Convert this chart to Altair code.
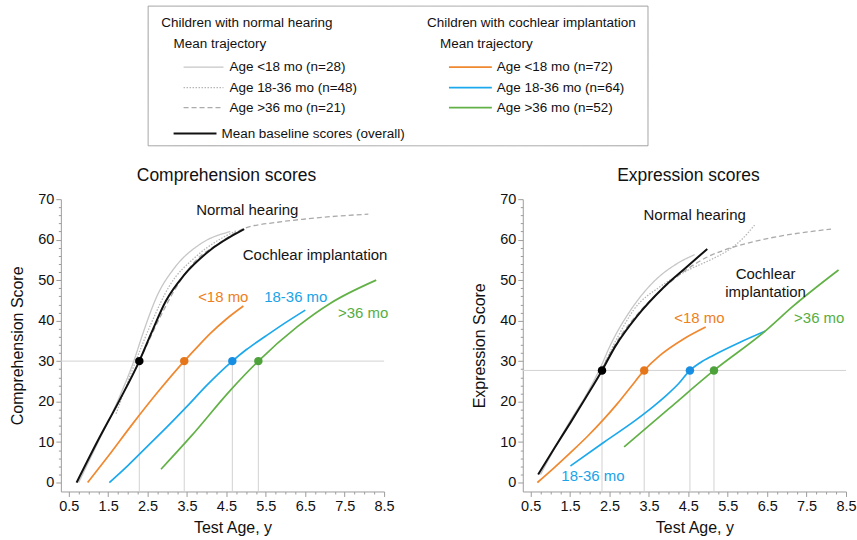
import altair as alt
import pandas as pd

FONT = "Liberation Sans"

# ---------------- Comprehension scores (test age in years, score) ----------------
comp_nh_lt18_x = [0.75, 1.27, 1.78, 2.15, 2.37, 2.75, 3.18, 3.85, 4.6]
comp_nh_lt18_y = [0, 10.5, 21, 30, 36.5, 46.3, 53.0, 59.0, 62.0]
comp_nh_18_36_x = [1.7, 2.2, 2.6, 3.05, 3.7, 4.3, 4.75]
comp_nh_18_36_y = [17, 30, 39.5, 48.5, 55.6, 59.9, 62.2]
comp_nh_gt36_x = [2.3, 2.7, 3.2, 3.7, 4.3, 4.96, 5.8, 6.5, 7.3, 8.1]
comp_nh_gt36_y = [30, 38.5, 47.8, 54.6, 59.0, 62.8, 64.3, 65.1, 65.8, 66.3]
comp_base_x = [0.7, 1.22, 1.77, 2.29, 2.58, 2.96, 3.43, 4.02, 4.95]
comp_base_y = [0, 10, 20, 30, 36.6, 44.8, 51.3, 56.9, 62.6]
comp_ci_lt18_x = [0.98, 1.5, 2.12, 2.78, 3.43, 3.8, 4.1, 4.5, 4.93]
comp_ci_lt18_y = [0, 6.5, 14.5, 22.6, 30, 33.9, 36.9, 40.4, 43.6]
comp_ci_18_36_x = [1.53, 2.0, 2.5, 3.0, 3.5, 4.0, 4.65, 5.0, 5.5, 6.0, 6.5]
comp_ci_18_36_y = [0, 4.2, 9.0, 13.8, 18.8, 24.0, 30, 32.8, 36.2, 39.5, 42.6]
comp_ci_gt36_x = [2.84, 3.6, 4.61, 5.31, 6.3, 7.14, 8.3]
comp_ci_gt36_y = [3.3, 11.4, 22.9, 30, 38.5, 44.3, 50]
comp_threshold = 30
comp_dot_x = [2.29, 3.43, 4.65, 5.31]

# ---------------- Expression scores ----------------
expr_nh_lt18_x = [0.75, 1.5, 1.9, 2.25, 2.55, 3.03, 3.61, 4.2, 4.66]
expr_nh_lt18_y = [2, 15.2, 21.5, 28, 34.5, 42.5, 49.5, 54, 56.3]
expr_nh_18_36_x = [2.3, 2.7, 3.11, 3.8, 4.5, 5.1, 5.5, 5.85, 6.18]
expr_nh_18_36_y = [28, 35.8, 42.6, 48.5, 52.5, 55.2, 57.3, 60, 63.6]
expr_nh_gt36_x = [2.3, 2.8, 3.2, 3.7, 4.37, 5.0, 5.38, 6.47, 7.3, 8.12]
expr_nh_gt36_y = [28, 36.5, 41.5, 46.5, 52, 55.8, 57.3, 60.2, 61.6, 62.6]
expr_base_x = [0.69, 1.1, 1.51, 1.9, 2.31, 2.65, 3.19, 3.87, 4.45, 4.98]
expr_base_y = [2, 8.5, 14.8, 21, 27.7, 33.7, 41.0, 48.2, 53.2, 57.7]
expr_ci_lt18_x = [0.67, 1.1, 1.51, 1.95, 2.35, 2.7, 3.03, 3.38, 3.78, 4.37, 4.94]
expr_ci_lt18_y = [0, 3.7, 7.4, 11.5, 15.6, 19.5, 23.5, 27.7, 31.4, 35.4, 38.4]
expr_ci_18_36_x = [1.51, 2.35, 3.19, 3.6, 3.95, 4.25, 4.54, 4.8, 5.13, 5.8, 6.45]
expr_ci_18_36_y = [4.1, 9.9, 15.6, 18.7, 21.6, 24.4, 27.7, 29.6, 31.4, 34.6, 37.4]
expr_ci_gt36_x = [2.87, 4.0, 5.15, 6.45, 7.15, 8.31]
expr_ci_gt36_y = [8.8, 18.2, 27.7, 37.4, 43.5, 52.5]
expr_threshold = 27.7
expr_dot_x = [2.31, 3.38, 4.54, 5.15]

# ---------------- Text ----------------
comp_ann_text = ["Normal hearing", "Cochlear implantation", "<18 mo", "18-36 mo", ">36 mo"]
comp_ann_x = [5.03, 6.75, 4.42, 6.26, 7.97]
comp_ann_y = [67.3, 56.2, 45.9, 45.9, 41.8]
expr_ann_text = ["Normal hearing", "Cochlear\nimplantation", "<18 mo", "18-36 mo", ">36 mo"]
expr_ann_x = [4.66, 6.46, 4.78, 2.08, 7.82]
expr_ann_y = [66.0, 51.4, 40.7, 1.6, 40.7]
ann_kind = ["text", "text", "ci_lt18", "ci_18_36", "ci_gt36"]

x_tick_labels = ["0.5", "1.5", "2.5", "3.5", "4.5", "5.5", "6.5", "7.5", "8.5"]
x_minor_step = 0.25
y_tick_labels = ["0", "10", "20", "30", "40", "50", "60", "70"]
y_minor_step = 2

legend_nh_header = "Children with normal hearing"
legend_ci_header = "Children with cochlear implantation"
legend_sub = "Mean trajectory"
legend_nh_labels = ["Age <18 mo (n=28)", "Age 18-36 mo (n=48)", "Age >36 mo (n=21)"]
legend_ci_labels = ["Age <18 mo (n=72)", "Age 18-36 mo (n=64)", "Age >36 mo (n=52)"]
legend_base_label = "Mean baseline scores (overall)"

# ---------------- Styles ----------------
SERIES = ["nh_lt18", "nh_18_36", "nh_gt36", "base", "ci_lt18", "ci_18_36", "ci_gt36"]
LINE_COLORS = ["#c6c6c6", "#b6b6b6", "#ababab", "#111111", "#F0882F", "#1CA8EC", "#62B146"]
DASHES = [[1, 0], [1.5, 1.5], [5, 3], [1, 0], [1, 0], [1, 0], [1, 0]]
DOT_COLORS = {"base": "#000000", "ci_lt18": "#E5761A", "ci_18_36": "#168FE3", "ci_gt36": "#4DA33A"}
TEXT_COLORS = {"text": "#151515", "ci_lt18": "#EE7F22", "ci_18_36": "#1AA3E8", "ci_gt36": "#56AE43"}
AXIS_GRAY = "#9c9c9c"
REF_GRAY = "#d2d2d2"
BOX_GRAY = "#a0a0a0"

X_MIN, X_MAX = 0.3, 8.5
Y_MIN, Y_MAX = -2.2, 70
W, H = 324, 293

major_x = [float(v) for v in x_tick_labels]
n_minor = int(round((major_x[-1] - major_x[0]) / x_minor_step))
X_TICKS = [major_x[0] + x_minor_step * k for k in range(n_minor + 1)]
major_y = [float(v) for v in y_tick_labels]
Y_TICKS = list(range(int(major_y[0]), int(major_y[-1]) + 1, y_minor_step))

x_major_test = "abs((datum.value - 0.5) % 1) < 0.001"
y_major_test = "datum.value % 10 === 0"


def x_enc():
    return alt.X(
        "x:Q",
        scale=alt.Scale(domain=[X_MIN, X_MAX], nice=False, zero=False),
        axis=alt.Axis(
            title="Test Age, y", values=X_TICKS,
            labelExpr=f"{x_major_test} ? format(datum.value, '.1f') : ''",
            tickSize={"condition": {"test": x_major_test, "value": 5}, "value": 2.5},
            grid=False, labelOverlap=False, labelFlush=False,
            domainColor=AXIS_GRAY, tickColor=AXIS_GRAY, labelColor="#111",
            labelFont=FONT, labelFontSize=14.5, labelPadding=3,
            titleFont=FONT, titleFontSize=16, titleFontWeight="normal",
            titleColor="#111", titlePadding=7, titleX=W / 2 + 10,
        ),
    )


def y_enc(title):
    return alt.Y(
        "y:Q",
        scale=alt.Scale(domain=[Y_MIN, Y_MAX], nice=False, zero=False),
        axis=alt.Axis(
            title=title, values=Y_TICKS,
            labelExpr=f"{y_major_test} ? format(datum.value, 'd') : ''",
            tickSize={"condition": {"test": y_major_test, "value": 5}, "value": 2.5},
            grid=False, labelOverlap=False, labelFlush=False,
            domainColor=AXIS_GRAY, tickColor=AXIS_GRAY, labelColor="#111",
            labelFont=FONT, labelFontSize=14.5, labelPadding=2,
            titleFont=FONT, titleFontSize=16, titleFontWeight="normal",
            titleColor="#111", titlePadding=12,
        ),
    )


def long_df(curves):
    rows = []
    for s, (xs, ys) in curves.items():
        for i, (a, b) in enumerate(zip(xs, ys)):
            rows.append({"series": s, "x": a, "y": b, "i": i})
    return pd.DataFrame(rows)


def panel(title, ytitle, curves, thr, dot_x, ann_text, ann_x, ann_y):
    df = long_df(curves)
    gray_df = df[df.series.str.startswith("nh")]
    ci_df = df[df.series.str.startswith("ci")]
    base_df = df[df.series == "base"]

    dot_series = ["base", "ci_lt18", "ci_18_36", "ci_gt36"]
    dots = pd.DataFrame({
        "x": dot_x, "y": [thr] * len(dot_x), "y0": [Y_MIN] * len(dot_x),
        "c": [DOT_COLORS[s] for s in dot_series],
    })
    href = pd.DataFrame({"x": [X_MIN], "x2": [X_MAX], "y": [thr]})
    ann = pd.DataFrame({"t": ann_text, "x": ann_x, "y": ann_y,
                        "c": [TEXT_COLORS[k] for k in ann_kind]})

    color_scale = alt.Scale(domain=SERIES, range=LINE_COLORS)
    dash_scale = alt.Scale(domain=SERIES, range=DASHES)

    h = alt.Chart(href).mark_rule(color=REF_GRAY, strokeWidth=1).encode(
        x=x_enc(), x2="x2:Q", y=y_enc(ytitle))
    v = alt.Chart(dots).mark_rule(color=REF_GRAY, strokeWidth=1).encode(
        x=x_enc(), y=y_enc(ytitle), y2="y0:Q")
    gray = alt.Chart(gray_df).mark_line(strokeWidth=1.3, interpolate="monotone").encode(
        x=x_enc(), y=y_enc(ytitle),
        color=alt.Color("series:N", scale=color_scale, legend=None),
        strokeDash=alt.StrokeDash("series:N", scale=dash_scale, legend=None),
        order=alt.Order("i:Q"))
    ci = alt.Chart(ci_df).mark_line(strokeWidth=1.7, interpolate="monotone").encode(
        x=x_enc(), y=y_enc(ytitle),
        color=alt.Color("series:N", scale=color_scale, legend=None),
        order=alt.Order("i:Q"))
    base = alt.Chart(base_df).mark_line(strokeWidth=2, color="#111111", interpolate="monotone").encode(
        x=x_enc(), y=y_enc(ytitle), order=alt.Order("i:Q"))
    pts = alt.Chart(dots).mark_circle(size=72, opacity=1).encode(
        x=x_enc(), y=y_enc(ytitle), color=alt.Color("c:N", scale=None))
    txt = alt.Chart(ann).mark_text(font=FONT, fontSize=15, align="center", baseline="middle",
                                   lineBreak="\n", lineHeight=18).encode(
        x=x_enc(), y=y_enc(ytitle), text="t:N", color=alt.Color("c:N", scale=None))

    return alt.layer(h, v, gray, ci, base, pts, txt).properties(
        width=W, height=H,
        title=alt.TitleParams(title, font=FONT, fontSize=17.5, fontWeight="normal",
                              color="#111", anchor="middle", offset=7, dx=4),
    )


comp_curves = {
    "nh_lt18": (comp_nh_lt18_x, comp_nh_lt18_y),
    "nh_18_36": (comp_nh_18_36_x, comp_nh_18_36_y),
    "nh_gt36": (comp_nh_gt36_x, comp_nh_gt36_y),
    "base": (comp_base_x, comp_base_y),
    "ci_lt18": (comp_ci_lt18_x, comp_ci_lt18_y),
    "ci_18_36": (comp_ci_18_36_x, comp_ci_18_36_y),
    "ci_gt36": (comp_ci_gt36_x, comp_ci_gt36_y),
}
expr_curves = {
    "nh_lt18": (expr_nh_lt18_x, expr_nh_lt18_y),
    "nh_18_36": (expr_nh_18_36_x, expr_nh_18_36_y),
    "nh_gt36": (expr_nh_gt36_x, expr_nh_gt36_y),
    "base": (expr_base_x, expr_base_y),
    "ci_lt18": (expr_ci_lt18_x, expr_ci_lt18_y),
    "ci_18_36": (expr_ci_18_36_x, expr_ci_18_36_y),
    "ci_gt36": (expr_ci_gt36_x, expr_ci_gt36_y),
}

left = panel("Comprehension scores", "Comprehension Score", comp_curves, comp_threshold,
             comp_dot_x, comp_ann_text, comp_ann_x, comp_ann_y)
right = panel("Expression scores", "Expression Score", expr_curves, expr_threshold,
              expr_dot_x, expr_ann_text, expr_ann_x, expr_ann_y)

# ---------------- Legend box (layout in pixels, relative to left plot origin) ----------------
DX = 3
BX0, BX1, BY0, BY1 = 84 + DX, 586 + DX, 0, 141
LW, LH = BX1, BY1
FS = 13.5


def ltext(t, x, y):
    return alt.Chart().mark_text(font=FONT, fontSize=FS, align="left", baseline="middle",
                                 color="#111").encode(
        x=alt.value(x + DX), y=alt.value(y), text=alt.value(t))


def lline(x0, x1, y0, y1, color, dash, width, shift=True):
    d = DX if shift else 0
    return alt.Chart().mark_rule(color=color, strokeDash=dash, strokeWidth=width).encode(
        x=alt.value(x0 + d), x2=alt.value(x1 + d), y=alt.value(y0), y2=alt.value(y1))


layers = [
    lline(BX0 + 0.5, BX1 - 0.5, BY0 + 0.5, BY0 + 0.5, BOX_GRAY, [1, 0], 1, False),
    lline(BX0 + 0.5, BX1 - 0.5, BY1 - 0.5, BY1 - 0.5, BOX_GRAY, [1, 0], 1, False),
    lline(BX0 + 0.5, BX0 + 0.5, BY0 + 0.5, BY1 - 0.5, BOX_GRAY, [1, 0], 1, False),
    lline(BX1 - 0.5, BX1 - 0.5, BY0 + 0.5, BY1 - 0.5, BOX_GRAY, [1, 0], 1, False),
]

row_y = [61.7, 82.3, 102.3]
layers.append(ltext(legend_nh_header, 97.7, 17.7))
layers.append(ltext(legend_ci_header, 364, 17.7))
layers.append(ltext(legend_sub, 110, 38.3))
layers.append(ltext(legend_sub, 377, 38.3))
for k in range(3):
    layers.append(lline(120, 160, row_y[k], row_y[k], LINE_COLORS[k], DASHES[k], 1.3))
    layers.append(ltext(legend_nh_labels[k], 166, row_y[k]))
    layers.append(lline(386, 429, row_y[k], row_y[k], LINE_COLORS[4 + k], DASHES[4 + k], 1.7))
    layers.append(ltext(legend_ci_labels[k], 434, row_y[k]))
layers.append(lline(110, 153, 128.3, 128.3, LINE_COLORS[3], DASHES[3], 2))
layers.append(ltext(legend_base_label, 158, 128.3))

legend = alt.layer(*layers).properties(width=LW, height=LH)

chart = alt.vconcat(
    legend,
    alt.hconcat(left, right, spacing=76),
    spacing=20,
).properties(
    padding={"left": 9, "top": 5, "right": 0, "bottom": 0}
).configure(font=FONT).configure_view(stroke=None)

chart.save("out.html", embed_options={"renderer": "svg", "actions": False})
